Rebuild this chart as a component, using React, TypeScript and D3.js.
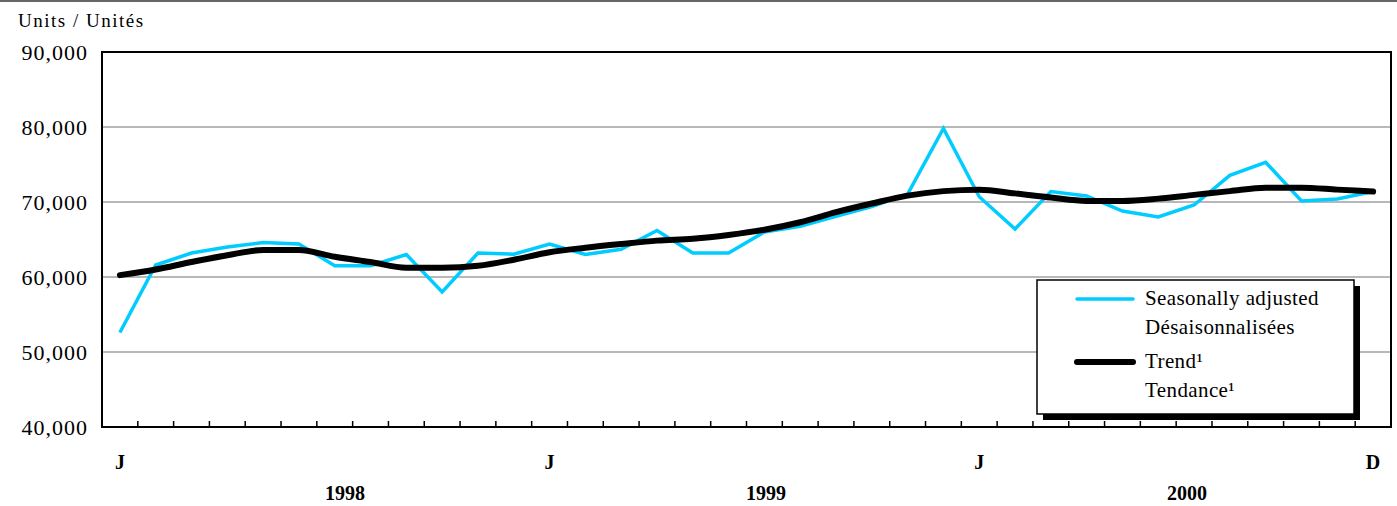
import React from "react";
import * as d3 from "d3";

const months: string[] = d3.range(36).map((i) => `${1998 + Math.floor(i / 12)}-${(i % 12) + 1}`);
const seasonallyAdjusted: number[] = [
  52600, 61600, 63200, 64000, 64600, 64400, 61500, 61500, 63000, 58000, 63200, 63050,
  64400, 63000, 63700, 66200, 63200, 63200, 66000, 66750, 68100, 69400, 71050, 79800,
  70700, 66400, 71400, 70800, 68800, 68000, 69600, 73550, 75300, 70150, 70400, 71400,
];
const trend: number[] = [
  60250, 61000, 62000, 62900, 63600, 63600, 62700, 62000, 61250, 61250, 61500, 62300,
  63300, 63900, 64400, 64850, 65100, 65600, 66300, 67300, 68650, 69800, 70850, 71450,
  71650, 71150, 70600, 70150, 70150, 70450, 70950, 71450, 71900, 71900, 71650, 71400,
];
const yTicks: number[] = [40000, 50000, 60000, 70000, 80000, 90000];
const monthLabels: { index: number; label: string }[] = [
  { index: 0, label: "J" },
  { index: 12, label: "J" },
  { index: 24, label: "J" },
  { index: 35, label: "D" },
];
const years: string[] = ["1998", "1999", "2000"];
const legendItems = [
  { lines: ["Seasonally adjusted", "Désaisonnalisées"], color: "#00CCFF", width: 3.5 },
  { lines: ["Trend\u00B9", "Tendance\u00B9"], color: "#000000", width: 6 },
];

const W = 1397;
const H = 506;
const left = 102;
const right = 1391;
const top = 52;
const bottom = 427;
const FONT = "'Liberation Serif', 'Times New Roman', serif";

export default function App() {
  const x = d3.scaleBand<string>().domain(months).range([left, right]).padding(0);
  const cx = (i: number) => (x(months[i]) as number) + x.bandwidth() / 2;
  const y = d3.scaleLinear().domain([40000, 90000]).range([bottom, top]);
  const yearX = d3.scaleLinear().domain([0, 2]).range([345, 1187]);
  const fmt = d3.format(",");

  const line = d3
    .line<number>()
    .x((_, i) => cx(i))
    .y((d) => y(d));
  const smooth = d3
    .line<number>()
    .x((_, i) => cx(i))
    .y((d) => y(d))
    .curve(d3.curveMonotoneX);

  const lg = { x: 1037, y: 280, w: 317, h: 134 };

  return (
    <svg
      width={W}
      height={H}
      style={{ position: "absolute", left: 0, top: 0, display: "block", background: "#fff" }}
      fontFamily={FONT}
    >
      <line x1={0} x2={W} y1={1} y2={1} stroke="#666" strokeWidth={2} />
      <text x={18} y={27} fontSize={19} fill="#000" letterSpacing={1.5}>
        Units / Unités
      </text>

      {yTicks.slice(1, -1).map((t) => (
        <line key={t} x1={left} x2={right} y1={y(t)} y2={y(t)} stroke="#a0a0a0" strokeWidth={1.5} />
      ))}
      {yTicks.map((t) => (
        <text
          key={"l" + t}
          x={88}
          y={y(t)}
          textAnchor="end"
          dominantBaseline="central"
          fontSize={22}
          letterSpacing={1}
          fill="#000"
        >
          {fmt(t)}
        </text>
      ))}

      <rect x={left} y={top} width={right - left} height={bottom - top} fill="none" stroke="#000" strokeWidth={2} />

      {months.slice(1).map((m) => (
        <line
          key={"t" + m}
          x1={x(m) as number}
          x2={x(m) as number}
          y1={bottom}
          y2={bottom - 6}
          stroke="#000"
          strokeWidth={1.5}
        />
      ))}

      <path d={line(seasonallyAdjusted) || ""} fill="none" stroke="#00CCFF" strokeWidth={3.5} strokeLinejoin="miter" />
      <path d={smooth(trend) || ""} fill="none" stroke="#000" strokeWidth={6} strokeLinecap="round" strokeLinejoin="round" />

      {monthLabels.map((m) => (
        <text
          key={"m" + m.index}
          x={cx(m.index)}
          y={462}
          textAnchor="middle"
          dominantBaseline="central"
          fontSize={20}
          fontWeight="bold"
          fill="#000"
        >
          {m.label}
        </text>
      ))}
      {years.map((yr, i) => (
        <text
          key={yr}
          x={yearX(i)}
          y={493}
          textAnchor="middle"
          dominantBaseline="central"
          fontSize={20}
          fontWeight="bold"
          fill="#000"
        >
          {yr}
        </text>
      ))}

      <rect x={lg.x + 6} y={lg.y + 6} width={lg.w} height={lg.h} fill="#000" />
      <rect x={lg.x} y={lg.y} width={lg.w} height={lg.h} fill="#fff" stroke="#000" strokeWidth={1.5} />
      {legendItems.map((it, i) => {
        const ly = lg.y + 19 + i * 63;
        return (
          <g key={i}>
            <line
              x1={lg.x + 40}
              x2={lg.x + 96}
              y1={ly}
              y2={ly}
              stroke={it.color}
              strokeWidth={it.width}
              strokeLinecap="round"
            />
            {it.lines.map((t, j) => (
              <text
                key={j}
                x={lg.x + 108}
                y={ly + 6 + j * 29}
                fontSize={21}
                fill="#000"
                letterSpacing={0.4}
              >
                {t}
              </text>
            ))}
          </g>
        );
      })}
    </svg>
  );
}
